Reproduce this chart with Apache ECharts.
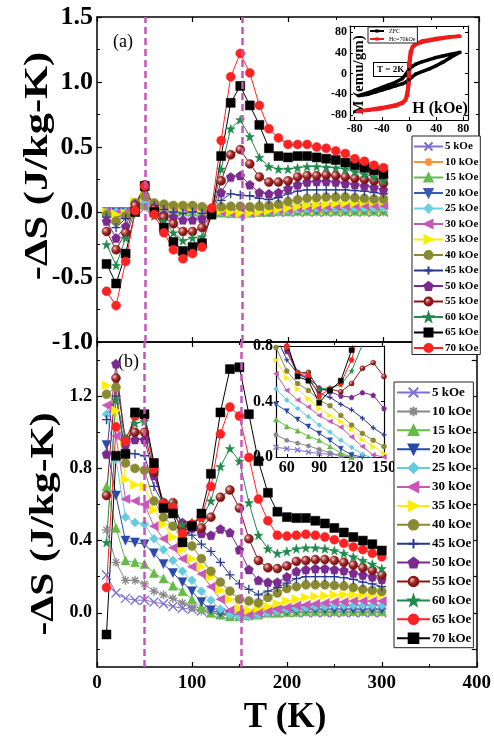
<!DOCTYPE html>
<html>
<head>
<meta charset="utf-8">
<script src="https://cdn.jsdelivr.net/npm/echarts@6.0.0/dist/echarts.min.js"></script>
<style>
  html, body { margin: 0; padding: 0; background: #fff; }
  #chart { width: 494px; height: 738px; }
</style>
</head>
<body>
<div id="chart"></div>
<script>
// temperatures (K), same for every field curve
const temps = [10, 20, 30, 40, 50, 60, 70, 80, 90, 100, 110, 120, 130, 140, 150,
  160, 170, 180, 190, 200, 210, 220, 230, 240, 250, 260, 270, 280, 290, 300];
const fieldNames = ['5 kOe', '10 kOe', '15 kOe', '20 kOe', '25 kOe', '30 kOe', '35 kOe',
  '40 kOe', '45 kOe', '50 kOe', '55 kOe', '60 kOe', '65 kOe', '70 kOe'];
const markTemps = [50, 152];

// panel (a)  -dS
const a05 = [0.00,0.00,0.00,0.02,0.03,0.01,0.00,0.00,0.00,0.00, 0.00,0.00,0.00,-0.01,-0.01,0.00,0.00,0.00,0.00,0.00, 0.00,0.00,0.00,0.00,0.00,0.00,0.00,0.00,0.00,0.00];
const a10 = [0.00,0.00,0.00,0.03,0.04,0.01,0.005,0.00,0.00,0.00, 0.00,0.00,-0.005,-0.01,-0.01,-0.005,0.00,0.00,0.00,0.00, 0.00,0.00,0.00,0.00,0.00,0.00,0.00,0.00,0.00,0.00];
const a15 = [0.00,0.00,0.00,0.04,0.06,0.02,0.01,0.01,0.01,0.005, 0.00,0.00,-0.005,-0.01,-0.01,-0.005,0.00,0.00,0.005,0.005, 0.01,0.01,0.01,0.01,0.01,0.01,0.01,0.01,0.01,0.01];
const a20 = [0.00,0.00,0.00,0.05,0.08,0.03,0.02,0.02,0.01,0.01, 0.01,0.00,0.00,-0.01,-0.01,-0.01,0.00,0.00,0.01,0.01, 0.01,0.015,0.015,0.02,0.02,0.02,0.02,0.02,0.02,0.02];
const a25 = [0.00,0.00,0.00,0.06,0.09,0.04,0.03,0.02,0.02,0.02, 0.01,0.01,0.00,-0.01,-0.02,-0.01,0.00,0.01,0.01,0.015, 0.02,0.025,0.03,0.03,0.03,0.03,0.03,0.03,0.03,0.03];
const a30 = [0.00,-0.01,0.00,0.07,0.11,0.05,0.04,0.03,0.03,0.03, 0.02,0.01,0.00,-0.01,-0.02,-0.01,0.00,0.01,0.015,0.02, 0.03,0.035,0.04,0.04,0.045,0.045,0.05,0.05,0.05,0.05];
const a35 = [0.00,-0.02,-0.01,0.08,0.12,0.06,0.05,0.04,0.04,0.035, 0.03,0.02,0.01,0.00,-0.01,-0.01,0.00,0.01,0.02,0.03, 0.04,0.05,0.055,0.06,0.065,0.07,0.07,0.075,0.075,0.08];
const a40 = [-0.02,-0.07,-0.03,0.07,0.12,0.07,0.06,0.05,0.05,0.05, 0.04,0.02,0.04,0.045,0.045,0.04,0.045,0.05,0.06,0.08, 0.095,0.105,0.11,0.115,0.115,0.115,0.11,0.105,0.10,0.10];
const a45 = [-0.04,-0.12,-0.05,0.06,0.17,0.05,0.02,0.00,-0.01,0.00, -0.01,0.00,0.09,0.14,0.13,0.125,0.105,0.095,0.11,0.14, 0.16,0.17,0.17,0.17,0.17,0.17,0.165,0.16,0.15,0.14];
const a50 = [-0.07,-0.20,-0.11,0.06,0.20,0.03,-0.02,-0.04,-0.06,-0.06, -0.05,-0.01,0.15,0.27,0.28,0.21,0.15,0.14,0.15,0.18, 0.21,0.23,0.235,0.235,0.23,0.22,0.21,0.20,0.19,0.17];
const a55 = [-0.15,-0.29,-0.16,0.05,0.21,0.02,-0.04,-0.09,-0.15,-0.15, -0.12,-0.02,0.24,0.44,0.48,0.37,0.27,0.23,0.23,0.24, 0.27,0.28,0.28,0.285,0.28,0.27,0.26,0.25,0.24,0.22];
const a60 = [-0.25,-0.41,-0.20,0.02,0.19,-0.03,-0.07,-0.16,-0.22,-0.20, -0.19,-0.02,0.33,0.64,0.71,0.58,0.42,0.35,0.33,0.33, 0.34,0.35,0.35,0.345,0.34,0.33,0.31,0.29,0.27,0.24];
const a65 = [-0.40,-0.55,-0.32,0.00,0.20,0.00,-0.12,-0.23,-0.30,-0.27, -0.24,-0.02,0.43,0.84,0.97,0.82,0.67,0.49,0.43,0.42, 0.43,0.43,0.42,0.41,0.40,0.38,0.36,0.34,0.32,0.29];
const a70 = [-0.61,-0.72,-0.38,0.01,0.20,-0.02,-0.16,-0.29,-0.36,-0.32, -0.27,0.03,0.55,1.04,1.22,1.07,0.82,0.64,0.57,0.52, 0.52,0.52,0.50,0.49,0.47,0.45,0.41,0.39,0.36,0.34];

// panel (b)  -dS
const b05 = [0.21,0.11,0.08,0.07,0.07,0.06,0.05,0.035,0.025,0.02, 0.01,0.00,-0.005,-0.01,-0.01,-0.005,0.00,0.00,0.00,0.00, 0.00,0.00,0.00,0.00,0.00,0.00,0.00,0.00,0.00,0.00];
const b10 = [0.46,0.28,0.18,0.18,0.16,0.12,0.10,0.08,0.055,0.03, 0.01,0.00,-0.01,-0.01,-0.01,-0.01,0.00,0.00,0.00,0.00, 0.005,0.005,0.005,0.005,0.005,0.005,0.005,0.005,0.005,0.005];
const b15 = [0.70,0.47,0.29,0.28,0.27,0.22,0.19,0.15,0.12,0.075, 0.03,0.00,-0.01,-0.02,-0.02,-0.015,-0.01,0.00,0.00,0.005, 0.005,0.01,0.01,0.01,0.01,0.01,0.01,0.01,0.01,0.01];
const b20 = [0.93,0.65,0.40,0.39,0.38,0.33,0.27,0.22,0.17,0.12, 0.06,0.015,0.00,-0.01,-0.015,-0.01,0.00,0.00,0.01,0.01, 0.015,0.02,0.02,0.02,0.02,0.02,0.02,0.02,0.02,0.02];
const b25 = [1.10,0.85,0.53,0.50,0.49,0.41,0.35,0.29,0.23,0.18, 0.12,0.07,0.02,-0.01,-0.02,-0.02,-0.01,0.00,0.01,0.02, 0.025,0.03,0.035,0.035,0.04,0.04,0.04,0.04,0.04,0.04];
const b30 = [1.15,0.98,0.63,0.62,0.60,0.48,0.41,0.36,0.30,0.255, 0.215,0.145,0.075,0.015,0.00,-0.01,0.00,0.01,0.02,0.03, 0.04,0.045,0.05,0.055,0.06,0.06,0.065,0.065,0.065,0.065];
const b35 = [1.26,1.12,0.74,0.71,0.70,0.57,0.49,0.42,0.35,0.30, 0.255,0.20,0.125,0.075,0.025,0.015,0.025,0.035,0.05,0.065, 0.075,0.085,0.09,0.095,0.10,0.10,0.10,0.10,0.10,0.10];
const b40 = [1.21,1.25,0.83,0.80,0.79,0.62,0.53,0.48,0.41,0.37, 0.30,0.23,0.17,0.12,0.075,0.065,0.055,0.085,0.11,0.135, 0.145,0.155,0.155,0.155,0.152,0.148,0.14,0.13,0.125,0.118];
const b45 = [1.07,1.20,0.89,0.88,0.87,0.70,0.60,0.56,0.46,0.43, 0.38,0.34,0.28,0.21,0.16,0.13,0.10,0.12,0.14,0.165, 0.19,0.20,0.20,0.20,0.20,0.195,0.185,0.17,0.16,0.145];
const b50 = [0.88,1.38,0.93,0.96,0.96,0.76,0.60,0.57,0.50,0.47, 0.44,0.43,0.465,0.445,0.35,0.24,0.18,0.17,0.17,0.20, 0.23,0.24,0.245,0.245,0.24,0.235,0.22,0.21,0.20,0.185];
const b55 = [0.65,1.30,0.96,1.00,1.00,0.78,0.61,0.61,0.48,0.49, 0.47,0.53,0.64,0.68,0.58,0.41,0.29,0.25,0.245,0.26, 0.285,0.29,0.295,0.295,0.29,0.28,0.265,0.25,0.235,0.21];
const b60 = [0.39,1.18,0.97,1.05,1.06,0.80,0.61,0.60,0.49,0.50, 0.52,0.62,0.81,0.91,0.84,0.61,0.43,0.355,0.33,0.34, 0.355,0.36,0.36,0.355,0.345,0.33,0.31,0.29,0.27,0.245];
const b65 = [0.14,1.03,0.95,1.09,1.09,0.80,0.60,0.585,0.44,0.49, 0.53,0.70,0.99,1.14,1.09,0.86,0.63,0.51,0.43,0.425, 0.43,0.435,0.43,0.42,0.405,0.385,0.365,0.35,0.33,0.31];
const b70 = [-0.12,0.87,0.88,1.11,1.10,0.83,0.58,0.55,0.39,0.48, 0.55,0.77,1.11,1.35,1.36,1.10,0.84,0.665,0.56,0.53, 0.525,0.525,0.51,0.495,0.47,0.445,0.42,0.40,0.38,0.345];

// inset (a): M-H loops at 2 K
const hZfc = [75,60,50,40,30,20,10,5,0,-5,-10,-20,-30,-40,-50,-60,-75,-60,-50,-40,-30,-20,-10,-5,0,5,10,20,30,40,50,60,75];
const mZfc = [41,37,34,31,27,23,18,14,8,-2,-10,-17,-22,-27,-32,-37,-43,-40,-36,-32,-28,-24,-20,-17,-12,-6,-1,4,9,15,22,30,41];
const hFc = [75,60,40,20,10,5,2,0,-2,-5,-10,-20,-40,-60,-75,-60,-40,-20,-10,-5,-2,0,2,5,10,20,40,60,75];
const mFc = [72,71,68,63,58,52,42,20,-30,-50,-56,-61,-66,-70,-73,-71,-68,-63,-58,-52,-42,-20,30,50,56,61,66,70,72];

const panelA = [a05, a10, a15, a20, a25, a30, a35, a40, a45, a50, a55, a60, a65, a70];
const panelB = [b05, b10, b15, b20, b25, b30, b35, b40, b45, b50, b55, b60, b65, b70];

const FONT = "'Liberation Serif', 'Times New Roman', serif";
const SYM = {
  cross: 'path://M0,0L10,10M0,10L10,0',
  aster: 'path://M5,0L5,10M0,5L10,5M1.5,1.5L8.5,8.5M8.5,1.5L1.5,8.5',
  tri: 'triangle',
  triDown: 'path://M0,0L10,0L5,9Z',
  diamond: 'diamond',
  triLeft: 'path://M0,5L9,0L9,10Z',
  triRight: 'path://M0,0L9,5L0,10Z',
  circle: 'circle',
  plus: 'path://M5,0L5,10M0,5L10,5',
  penta: 'path://M5,0L10,3.8L8.1,10L1.9,10L0,3.8Z',
  star: 'path://M5,0L6.2,3.6L10,3.7L7,6L8.1,9.6L5,7.5L1.9,9.6L3,6L0,3.7L3.8,3.6Z',
  square: 'rect'
};
const sphere = new echarts.graphic.RadialGradient(0.35, 0.35, 0.7, [
  { offset: 0, color: '#f3c8c8' }, { offset: 0.45, color: '#a52a2a' }, { offset: 1, color: '#5e0808' }]);

const stylesA = [
  { c: '#7f6fd0', s: SYM.cross, open: true },
  { c: '#f5923e', s: SYM.aster, open: true },
  { c: '#66bb55', s: SYM.tri },
  { c: '#3a5bb0', s: SYM.triDown },
  { c: '#6fd0e0', s: SYM.diamond },
  { c: '#c858b8', s: SYM.triLeft },
  { c: '#f2f200', s: SYM.triRight },
  { c: '#8a8a35', s: SYM.circle },
  { c: '#253a90', s: SYM.plus, open: true },
  { c: '#7a2a90', s: SYM.penta },
  { c: '#8b1515', s: SYM.circle, fill: sphere },
  { c: '#1f8a4c', s: SYM.star },
  { c: '#000000', s: SYM.square },
  { c: '#ff2222', s: SYM.circle }
];
const stylesB = stylesA.map(function (st) { return Object.assign({}, st); });
stylesB[1].c = '#888888';
stylesB[2].c = '#66bb44';
stylesB[3].c = '#2a4aaa';
stylesB[4].c = '#66ccdd';
stylesB[6].c = '#ffee00';
stylesB[12] = { c: '#ff2222', s: SYM.circle };
stylesB[13] = { c: '#000000', s: SYM.square };

function curve(name, vals, st, xi, yi, size) {
  return {
    name: name, type: 'line', xAxisIndex: xi, yAxisIndex: yi,
    data: temps.map(function (t, i) { return [t, vals[i]]; }),
    symbol: st.s, symbolSize: size,
    lineStyle: { color: st.c, width: 1 },
    itemStyle: { color: st.fill || st.c, borderColor: st.c, borderWidth: st.open ? 1.3 : 0.5 },
    animation: false
  };
}

const series = [];
panelA.forEach(function (v, i) { series.push(curve('A|' + fieldNames[i], v, stylesA[i], 0, 0, 9)); });
panelB.forEach(function (v, i) { series.push(curve('B|' + fieldNames[i], v, stylesB[i], 2, 2, 9)); });
panelB.forEach(function (v, i) { series.push(curve('I|' + fieldNames[i], v, stylesB[i], 6, 7, 5)); });

const dashLine = {
  silent: true, symbol: 'none', label: { show: false },
  lineStyle: { color: '#c555b8', type: [7, 4], width: 2.5 },
  data: markTemps.map(function (t) { return { xAxis: t }; })
};
series[0].markLine = dashLine;
series[14].markLine = dashLine;

series.push({
  name: 'ZFC', type: 'line', xAxisIndex: 4, yAxisIndex: 5,
  data: hZfc.map(function (h, i) { return [h, mZfc[i]]; }),
  symbol: 'rect', symbolSize: 3, lineStyle: { color: '#000', width: 3.5 },
  itemStyle: { color: '#000' }, animation: false
});
series.push({
  name: 'Hc=70kOe', type: 'line', xAxisIndex: 4, yAxisIndex: 5,
  data: hFc.map(function (h, i) { return [h, mFc[i]]; }),
  symbol: 'rect', symbolSize: 3, lineStyle: { color: '#ee1c1c', width: 3.5 },
  itemStyle: { color: '#ee1c1c' }, animation: false
});

const frameLine = { show: true, onZero: false, lineStyle: { color: '#000', width: 1.5 } };
function xAx(grid, pos, min, max, opts) {
  return Object.assign({
    type: 'value', gridIndex: grid, position: pos, min: min, max: max,
    axisLine: frameLine, splitLine: { show: false },
    axisTick: { inside: true, length: 5, lineStyle: { color: '#000', width: 1.2 } },
    axisLabel: { show: false }
  }, opts);
}
const boldLabel = function (size, margin) {
  return { show: true, color: '#000', fontFamily: FONT, fontWeight: 'bold', fontSize: size, margin: margin };
};

const xAxis = [
  xAx(0, 'bottom', 0, 400, { interval: 100, minorTick: { show: true, splitNumber: 2, length: 3, lineStyle: { color: '#000' } } }),
  xAx(0, 'top', 0, 400, { interval: 100, minorTick: { show: true, splitNumber: 2, length: 3, lineStyle: { color: '#000' } } }),
  xAx(1, 'bottom', 0, 400, { interval: 100, axisLabel: boldLabel(19, 7), minorTick: { show: true, splitNumber: 2, length: 3, lineStyle: { color: '#000' } } }),
  xAx(1, 'top', 0, 400, { interval: 100, minorTick: { show: true, splitNumber: 2, length: 3, lineStyle: { color: '#000' } } }),
  xAx(2, 'bottom', -87, 87, {
    axisLine: { show: true, onZero: false, lineStyle: { color: '#000', width: 1.2 } },
    axisTick: { inside: true, length: 3, customValues: [-80, -40, 0, 40, 80], lineStyle: { color: '#000' } },
    axisLabel: Object.assign(boldLabel(12, 3), { customValues: [-80, -40, 0, 40, 80] })
  }),
  xAx(2, 'top', -87, 87, {
    axisLine: { show: true, onZero: false, lineStyle: { color: '#000', width: 1.2 } },
    axisTick: { inside: true, length: 3, customValues: [-80, -40, 0, 40, 80], lineStyle: { color: '#000' } }
  }),
  xAx(3, 'bottom', 50, 150, {
    axisLine: { show: true, onZero: false, lineStyle: { color: '#000', width: 1.2 } },
    axisTick: { inside: true, length: 3, customValues: [60, 90, 120, 150], lineStyle: { color: '#000' } },
    axisLabel: Object.assign(boldLabel(16, 3), { customValues: [60, 90, 120, 150] })
  }),
  xAx(3, 'top', 50, 150, {
    axisLine: { show: true, onZero: false, lineStyle: { color: '#000', width: 1.2 } },
    axisTick: { show: false }
  })
];

function yAx(grid, pos, min, max, opts) {
  return Object.assign({
    type: 'value', gridIndex: grid, position: pos, min: min, max: max,
    axisLine: frameLine, splitLine: { show: false },
    axisTick: { inside: true, length: 5, lineStyle: { color: '#000', width: 1.2 } },
    axisLabel: { show: false }
  }, opts);
}
const minorY = { show: true, splitNumber: 2, length: 3, lineStyle: { color: '#000' } };
const bMajor = [0, 0.4, 0.8, 1.2];
const bMinor = [-0.2, 0.2, 0.6, 1.0, 1.4];

const yAxis = [
  yAx(0, 'left', -1, 1.5, { interval: 0.5, minorTick: minorY,
    axisLabel: Object.assign(boldLabel(26, 4), { formatter: function (v) { return v.toFixed(1); } }) }),
  yAx(0, 'right', -1, 1.5, { interval: 0.5, minorTick: minorY }),
  yAx(1, 'left', -0.3, 1.5, {
    axisTick: { inside: true, length: 5, customValues: bMajor, lineStyle: { color: '#000', width: 1.2 } },
    axisLabel: Object.assign(boldLabel(18, 5), { customValues: bMajor, formatter: function (v) { return v.toFixed(1); } }) }),
  yAx(1, 'right', -0.3, 1.5, {
    axisTick: { inside: true, length: 5, customValues: bMajor.concat(bMinor), lineStyle: { color: '#000', width: 1.2 } } }),
  yAx(1, 'left', -0.3, 1.5, { axisLine: { show: false },
    axisTick: { inside: true, length: 3, customValues: bMinor, lineStyle: { color: '#000' } } }),
  yAx(2, 'left', -90, 92, {
    axisLine: { show: true, onZero: false, lineStyle: { color: '#000', width: 1.2 } },
    axisTick: { inside: true, length: 3, customValues: [-80, -40, 0, 40, 80], lineStyle: { color: '#000' } },
    axisLabel: Object.assign(boldLabel(12, 3), { customValues: [-80, -40, 0, 40, 80] }) }),
  yAx(2, 'right', -90, 92, {
    axisLine: { show: true, onZero: false, lineStyle: { color: '#000', width: 1.2 } },
    axisTick: { inside: true, length: 3, customValues: [-80, -40, 0, 40, 80], lineStyle: { color: '#000' } } }),
  yAx(3, 'left', 0, 0.8, {
    axisLine: { show: true, onZero: false, lineStyle: { color: '#000', width: 1.2 } },
    interval: 0.4, axisTick: { inside: true, length: 3, lineStyle: { color: '#000' } },
    axisLabel: Object.assign(boldLabel(16, 3), { formatter: function (v) { return v.toFixed(1); } }) }),
  yAx(3, 'right', 0, 0.8, {
    axisLine: { show: true, onZero: false, lineStyle: { color: '#000', width: 1.2 } },
    interval: 0.4, axisTick: { inside: true, length: 3, lineStyle: { color: '#000' } } })
];

function legendBox(names, left, top, opts) {
  return Object.assign({
    orient: 'vertical', left: left, top: top, data: names, selectedMode: false,
    formatter: function (n) { return n.indexOf('|') > 0 ? n.split('|')[1] : n; },
    borderColor: '#222', borderWidth: 1, backgroundColor: '#fff'
  }, opts);
}

const option = {
  animation: false,
  backgroundColor: '#fff',
  grid: [
    { left: 97, top: 17, width: 382, height: 325 },
    { left: 97, top: 342, width: 382, height: 325 },
    { left: 350, top: 26, width: 118, height: 94 },
    { left: 276, top: 346, width: 108, height: 111 }
  ],
  xAxis: xAxis,
  yAxis: yAxis,
  legend: [
    legendBox(fieldNames.map(function (n) { return 'A|' + n; }), 412, 136, {
      padding: [5, 2, 1, 1], itemWidth: 29, itemHeight: 10, itemGap: 4.5,
      textStyle: { fontFamily: FONT, fontWeight: 'bold', fontSize: 11, color: '#000', padding: [0, 0, 0, -3] }
    }),
    legendBox(fieldNames.map(function (n) { return 'B|' + n; }), 394, 382, {
      padding: [4, 2, 3, 2], itemWidth: 33, itemHeight: 12, itemGap: 5.9,
      textStyle: { fontFamily: FONT, fontWeight: 'bold', fontSize: 13, color: '#000', padding: [0, 0, 0, -3] }
    }),
    legendBox(['ZFC', 'Hc=70kOe'], 368, 27, {
      padding: [1, 2, 1, 1], itemWidth: 14, itemHeight: 4, itemGap: 2,
      textStyle: { fontFamily: FONT, fontSize: 6, color: '#000' }
    })
  ],
  graphic: [
    { type: 'text', x: 38, y: 166, rotation: Math.PI / 2, scaleX: 1.25,
      style: { text: '-ΔS (J/kg-K)', font: 'bold 34px ' + FONT, fill: '#000', textAlign: 'center', textVerticalAlign: 'middle' } },
    { type: 'text', x: 44, y: 524, rotation: Math.PI / 2, scaleX: 1.22,
      style: { text: '-ΔS (J/kg-K)', font: 'bold 34px ' + FONT, fill: '#000', textAlign: 'center', textVerticalAlign: 'middle' } },
    { type: 'text', x: 285, y: 718,
      style: { text: 'T (K)', font: 'bold 35px ' + FONT, fill: '#000', textAlign: 'center', textVerticalAlign: 'middle' } },
    { type: 'text', x: 113, y: 42,
      style: { text: '(a)', font: '18px ' + FONT, fill: '#000', textVerticalAlign: 'middle' } },
    { type: 'text', x: 118, y: 362,
      style: { text: '(b)', font: '18px ' + FONT, fill: '#000', textVerticalAlign: 'middle' } },
    { type: 'text', x: 374, y: 63,
      style: { text: 'T = 2K', font: 'bold 9px ' + FONT, fill: '#000', borderColor: '#000', borderWidth: 1, padding: [2, 3], backgroundColor: '#fff' } },
    { type: 'text', x: 440, y: 109,
      style: { text: 'H (kOe)', font: 'bold 16px ' + FONT, fill: '#000', textAlign: 'center', textVerticalAlign: 'middle' } },
    { type: 'text', x: 359, y: 75, rotation: Math.PI / 2,
      style: { text: 'M (emu/gm)', font: 'bold 15px ' + FONT, fill: '#000', textAlign: 'center', textVerticalAlign: 'middle' } }
  ],
  series: series
};

const chart = echarts.init(document.getElementById('chart'), null, { renderer: 'canvas' });
chart.setOption(option);
</script>
</body>
</html>
